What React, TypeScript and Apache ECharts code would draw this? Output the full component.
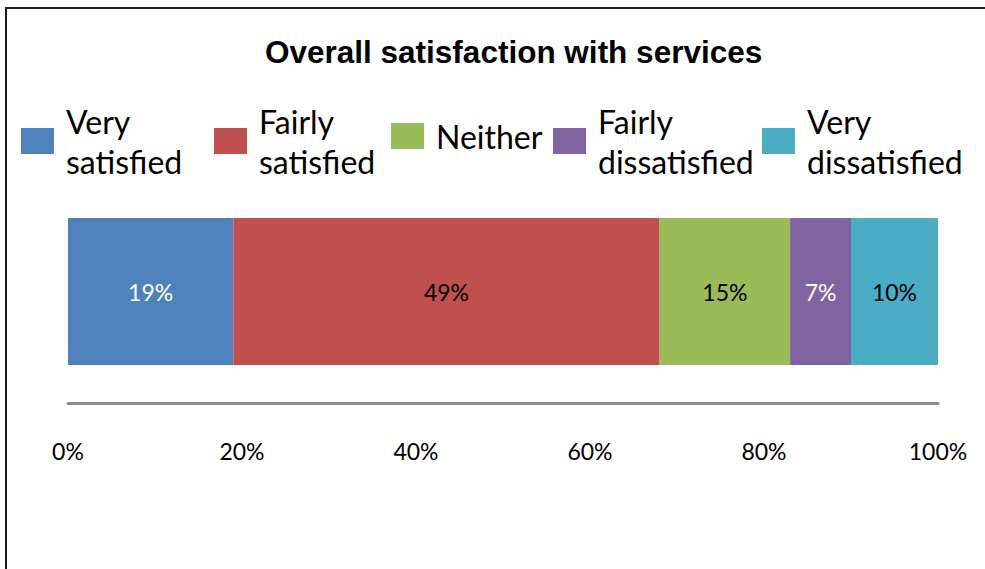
import React, { useEffect, useRef } from "react";
import * as echarts from "echarts";

const title = "Overall satisfaction with services";
const category = ["Overall"];
const seriesNames = ["Very satisfied", "Fairly satisfied", "Neither", "Fairly dissatisfied", "Very dissatisfied"];
const legendLabels = ["Very\nsatisfied", "Fairly\nsatisfied", "Neither", "Fairly\ndissatisfied", "Very\ndissatisfied"];
const values = [19, 49, 15, 7, 10];
const colors = ["#4F81BD", "#C0504D", "#9BBB59", "#8064A2", "#4BACC6"];
const labelColors = ["#FFFFFF", "#000000", "#000000", "#FFFFFF", "#000000"];
const xTicks = [0, 20, 40, 60, 80, 100];
const legendLeft = [16, 209, 386, 548, 757];

const FONT = "Lato, 'Open Sans', sans-serif";

export default function App() {
  const ref = useRef<HTMLDivElement>(null);
  useEffect(() => {
    if (!ref.current) return;
    const chart = echarts.init(ref.current, undefined, { renderer: "svg" });
    const option: any = {
      animation: false,
      backgroundColor: "#FFFFFF",
      title: {
        text: title,
        left: 260,
        top: 31,
        textStyle: {
          fontFamily: "'Liberation Sans', Arial, sans-serif",
          fontWeight: "bold",
          fontSize: 31.5,
          color: "#000",
        },
      },
      legend: seriesNames.map((n, i) => ({
        data: [n],
        left: legendLeft[i],
        top: legendLabels[i].includes("\n") ? 96 : 111,
        icon: "rect",
        itemWidth: 33,
        itemHeight: 26,
        selectedMode: false,
        formatter: () => legendLabels[i],
        textStyle: {
          fontFamily: FONT,
          fontSize: 32,
          lineHeight: 40,
          color: "#000",
          padding: [0, 0, 0, 7],
        },
      })),
      grid: { left: 68, right: 47, top: 180, bottom: 166, containLabel: false },
      xAxis: {
        type: "value",
        min: xTicks[0],
        max: xTicks[xTicks.length - 1],
        interval: 20,
        axisLine: { show: true, lineStyle: { color: "#8C8C8C", width: 3 } },
        axisTick: { show: false },
        splitLine: { show: false },
        axisLabel: {
          formatter: (v: number) => v + "%",
          fontFamily: FONT,
          fontSize: 23,
          color: "#000",
          margin: 36,
        },
      },
      yAxis: {
        type: "category",
        data: category,
        axisLine: { show: false },
        axisTick: { show: false },
        axisLabel: { show: false },
      },
      series: seriesNames.map((n, i) => ({
        name: n,
        type: "bar",
        stack: "total",
        barWidth: 147,
        data: [values[i]],
        itemStyle: { color: colors[i] },
        label: {
          show: true,
          position: "inside",
          formatter: (p: any) => p.value + "%",
          fontFamily: FONT,
          fontSize: 23,
          color: labelColors[i],
        },
      })),
      graphic: [
        {
          type: "rect",
          shape: { x: 6, y: 8, width: 1200, height: 800 },
          style: { fill: "none", stroke: "#1a1a1a", lineWidth: 2 },
          silent: true,
        },
      ],
    };
    chart.setOption(option);
    return () => chart.dispose();
  }, []);
  return (
    <div
      ref={ref}
      style={{ position: "fixed", left: 0, top: 0, width: 985, height: 569 }}
    />
  );
}
